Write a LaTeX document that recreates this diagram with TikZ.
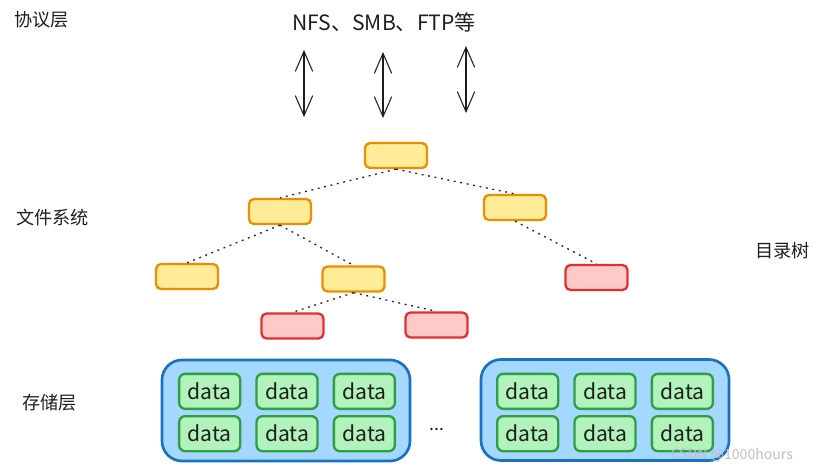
\documentclass[tikz,border=0pt]{standalone}
\usepackage{fontspec}
\setmainfont{Noto Sans CJK SC}
\usepackage{tikz}
\usetikzlibrary{matrix,arrows.meta}

\definecolor{giallo}{HTML}{FFEC99}
\definecolor{arancio}{HTML}{F08C00}
\definecolor{rosa}{HTML}{FFC9C9}
\definecolor{rosso}{HTML}{E03131}
\definecolor{celeste}{HTML}{A5D8FF}
\definecolor{blu}{HTML}{1971C2}
\definecolor{verdino}{HTML}{B2F2BB}
\definecolor{verde}{HTML}{2F9E44}
\definecolor{inchiostro}{HTML}{1E1E1E}

\tikzset{
    dirbox/.style={draw=arancio, fill=giallo, line width=0.07cm, rounded corners=0.15cm,
                   minimum width=1.86cm, minimum height=0.75cm},
    filebox/.style={dirbox, draw=rosso, fill=rosa},
    contenitore/.style={draw=blu, fill=celeste, line width=0.08cm, rounded corners=0.6cm,
                        minimum width=7.44cm, minimum height=3.03cm},
    databox/.style={draw=verde, fill=verdino, line width=0.07cm, rounded corners=0.18cm,
                    minimum width=1.83cm, minimum height=1.05cm, inner sep=0pt,
                    font=\fontsize{18}{20}\selectfont, text=inchiostro},
    etichetta/.style={anchor=west, font=\fontsize{15.5}{18}\selectfont, text=inchiostro},
    ramo/.style={draw=inchiostro, line width=1.1pt, dash pattern=on 1.6pt off 4pt},
    freccia/.style={draw=inchiostro, line width=0.9pt,
                    {Straight Barb[length=0.6cm,width=0.52cm]}-{Straight Barb[length=0.6cm,width=0.52cm]}}
}

\begin{document}
\begin{tikzpicture}[x=0.03cm, y=-0.03cm]
    \useasboundingbox (0,0) rectangle (820,471);

    % Etichette dei livelli
    \node[etichetta] (protocollo) at (10,20)  {协议层};
    \node[etichetta] (filesystem) at (12,218) {文件系统};
    \node[etichetta] (albero)     at (751,251) {目录树};
    \node[etichetta] (storage)    at (18,403) {存储层};

    % Protocolli e frecce
    \node[font=\fontsize{18}{20}\selectfont, text=inchiostro] (proto) at (384,22) {NFS、SMB、FTP等};
    \coordinate (a1) at (304,50);  \coordinate (b1) at (304,117);
    \coordinate (a2) at (383,52);  \coordinate (b2) at (383,118);
    \coordinate (a3) at (466,46);  \coordinate (b3) at (466,113);
    \draw[freccia] (a1) -- (b1);
    \draw[freccia] (a2) -- (b2);
    \draw[freccia] (a3) -- (b3);

    % Albero delle directory
    \node[dirbox]  (radice) at (396,155.5) {};
    \node[dirbox]  (d1)     at (280,211.5) {};
    \node[dirbox]  (d2)     at (515,207.5) {};
    \node[dirbox]  (d11)    at (187,276.5) {};
    \node[dirbox]  (d12)    at (353.5,279) {};
    \node[filebox] (f21)    at (596.5,277.5) {};
    \node[filebox] (f121)   at (292.5,326) {};
    \node[filebox] (f122)   at (436.5,325) {};

    \draw[ramo] (radice.south) -- (d1.north);   % radice -> d1
    \draw[ramo] (radice.south) -- (d2.north);   % radice -> d2
    \draw[ramo] (d1.south) -- (d11.north);      % d1 -> d11
    \draw[ramo] (d1.south) -- (d12.north);      % d1 -> d12
    \draw[ramo] (d2.south) -- (f21.north);      % d2 -> f21
    \draw[ramo] (d12.south) -- (f121.north);    % d12 -> f121
    \draw[ramo] (d12.south) -- (f122.north);    % d12 -> f122

    % Livello di storage
    \node[contenitore] (c1) at (286,410.5) {};
    \node[contenitore] (c2) at (605,410) {};

    \matrix (m1) [matrix of nodes, nodes={databox},
                  column sep=0.42cm, row sep=0.15cm] at (287,412.5)
    {
        data & data & data \\
        data & data & data \\
    };
    \matrix (m2) [matrix of nodes, nodes={databox},
                  column sep=0.42cm, row sep=0.15cm] at (605,412.5)
    {
        data & data & data \\
        data & data & data \\
    };

    \node[font=\fontsize{15}{18}\selectfont, text=inchiostro] (puntini) at (437,429) {...};

    % Filigrana
    \node[anchor=east, font=\fontsize{12}{14}\selectfont, text=black!25] (firma) at (797,455) {CSDN @1000hours};
\end{tikzpicture}
\end{document}
